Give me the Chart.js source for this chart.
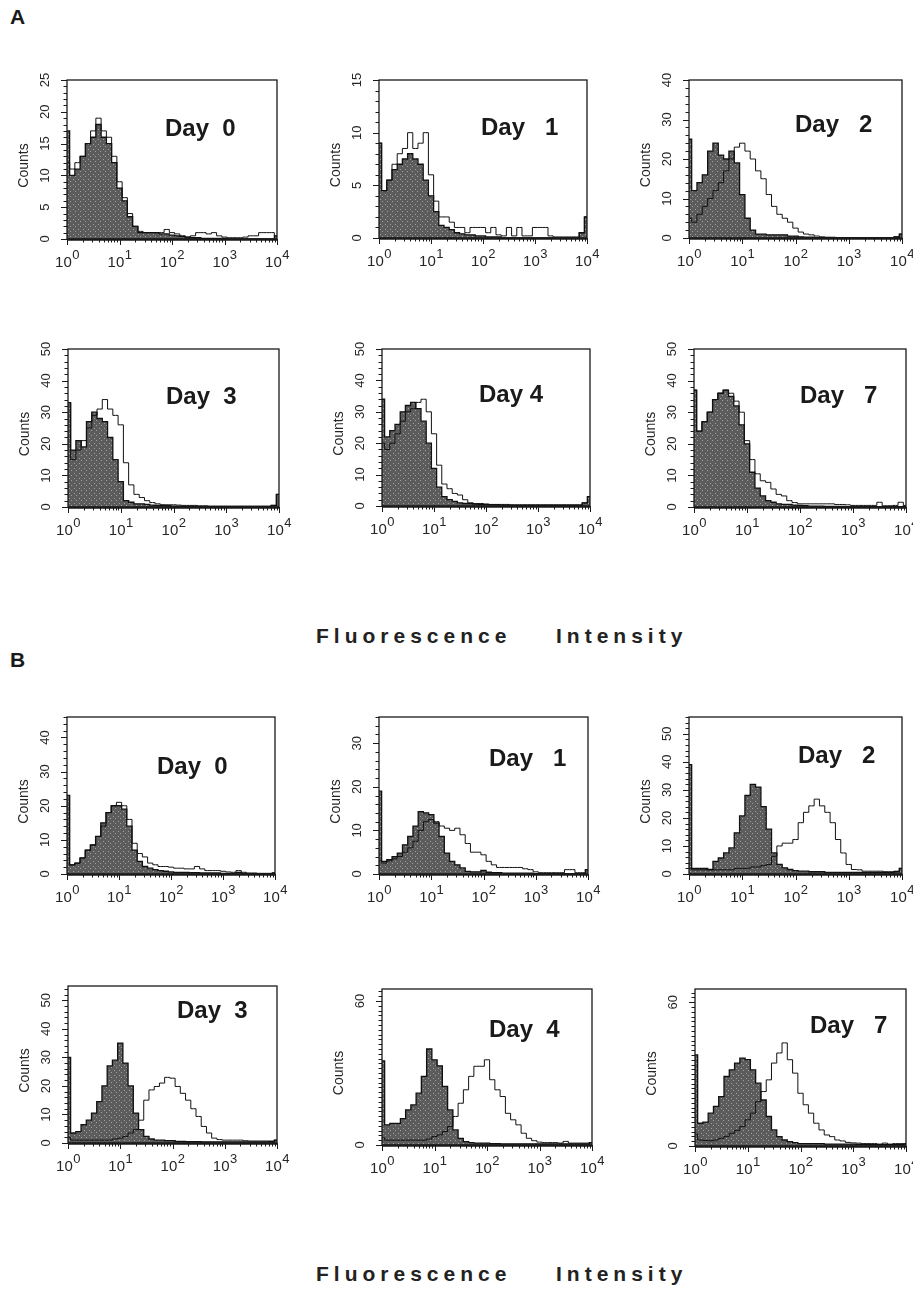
<!DOCTYPE html>
<html>
<head>
<meta charset="utf-8">
<script src="https://cdn.jsdelivr.net/npm/chart.js@4"></script>
<style>
  html, body { margin: 0; padding: 0; background: #fff; }
  body { width: 913px; height: 1289px; position: relative; overflow: hidden; font-family: "Liberation Sans", Arial, sans-serif; }
  canvas { position: absolute; }
  .tag { position: absolute; font-weight: bold; font-size: 21px; color: #1a1a1a; }
  .axt { position: absolute; font-weight: bold; font-size: 21px; letter-spacing: 5px; color: #222; }
</style>
</head>
<body>
<div class="tag" style="left:10px;top:5px">A</div>
<div class="tag" style="left:10px;top:648px">B</div>
<div class="axt" style="left:316px;top:624px">Fluorescence</div>
<div class="axt" style="left:556px;top:624px">Intensity</div>
<div class="axt" style="left:316px;top:1262px">Fluorescence</div>
<div class="axt" style="left:556px;top:1262px">Intensity</div>

<script>
// histogram channels, 10 per decade (10^0 .. 10^4)
const binX = [1, 1.26, 1.58, 2.0, 2.51, 3.16, 3.98, 5.01, 6.31, 7.94,
  10, 12.6, 15.8, 20.0, 25.1, 31.6, 39.8, 50.1, 63.1, 79.4,
  100, 126, 158, 200, 251, 316, 398, 501, 631, 794,
  1000, 1259, 1585, 1995, 2512, 3162, 3981, 5012, 6310, 7943, 10000];
const xTickExp = [0, 1, 2, 3, 4];

// panel A
const a0Fill = [17,10,11,13,15,16,18,16,15,12, 8,6,3.5,2,1,1,1,1,0.8,0.8, 0.6,0.5,0.4,0.3,0.2,0.2,0.1,0.1,0.1,0.1, 0.1,0,0,0,0,0,0,0,0,0, 0.5];
const a0Open = [12,11,12,13,15,17,19,17,16,13, 9,6.5,4,2,1.2,1,1,1,1,1.5, 1,0.8,0.5,0.3,0.5,1,1,0.8,1,0.5, 0.3,0.2,0.2,0.2,0.3,0.5,0.5,1,1,1, 0.5];
const a1Fill = [9,4.5,5.5,6.5,7,7.5,8,7.5,7,5.5, 4,2.5,1.2,1,0.8,0.5,0.4,0.3,0.3,0.2, 0.2,0.1,0.1,0.1,0,0,0,0,0,0, 0,0,0,0,0,0,0,0,0,0.5, 2];
const a1Open = [9,4.5,5.5,7,8,8.5,10,8.5,9,10, 6,3.5,2,2,1.5,1,1,0.5,1,1, 1,0.5,1,0.3,0.2,1,0.2,1,0.2,0.2, 1,1,1,0.2,0.1,0.1,0.1,0.1,0.1,0.5, 2];
const a2Fill = [25,12,14,16,22,24,21,20,22,19, 11,5,2,1,1,0.8,0.8,0.8,0.8,0.5, 0.5,0.3,0.2,0.2,0.1,0.1,0.1,0,0,0, 0,0,0,0,0,0,0,0,0,0.3, 1];
const a2Open = [5,4,6,8,10,12,14,17,20,23, 24,22,20,17,15,11,8,6,5,4, 2.5,1.5,1,0.8,0.5,0.3,0.2,0.2,0.1,0.1, 0.1,0.1,0.1,0.1,0.1,0.1,0.1,0.1,0.1,0.3, 1];
const a3Fill = [33,18,21,19,27,30,28,27,22,15, 8,2,1.5,1,1,0.8,0.6,0.5,0.5,0.4, 0.3,0.3,0.2,0.2,0.2,0.1,0.1,0.1,0.1,0.1, 0.1,0.1,0.1,0.1,0.1,0.1,0.1,0.1,0.1,0.5, 4];
const a3Open = [33,15,18,21,25,29,31,34,31,29, 26,14,7,4,3,2,1.4,1,0.7,0.7, 0.7,0.6,0.5,0.5,0.5,0.4,0.4,0.3,0.3,0.3, 0.3,0.3,0.3,0.3,0.3,0.3,0.3,0.3,0.3,0.5, 4];
const a4Fill = [34,22,24,26,30,32,33,31,27,20, 12,6,3,2,1.5,1,0.8,0.8,0.6,0.5, 0.5,0.4,0.4,0.3,0.3,0.2,0.2,0.2,0.2,0.2, 0.2,0.2,0.2,0.2,0.2,0.2,0.2,0.2,0.2,1, 3];
const a4Open = [20,18,20,23,27,30,31,33,34,30, 23,13,7,5.5,4,3.5,2,1,0.8,0.8, 0.6,0.5,0.5,0.5,0.5,0.4,0.4,0.4,0.4,0.4, 0.4,0.4,0.4,0.4,0.4,0.4,0.4,0.4,0.4,1, 3];
const a7Fill = [37,24,27,30,34,36,37,35,32,26, 20,11,6,3.5,2,1.5,1,0.8,0.8,0.6, 0.5,0.4,0.3,0.3,0.3,0.2,0.2,0.2,0.2,0.1, 0.1,0.1,0.1,0.1,0.1,0.1,0.1,0.1,0.1,0.1, 0.3];
const a7Open = [37,24,27,30,34,36,37,36,33.5,30, 21,15,10.5,8.3,7.8,5.7,4,3.5,2,1.4, 1,1,1,1,1,1,1,0.8,0.8,0.7, 0.5,0.5,0.5,0.5,0.5,1.5,0.4,0.4,0.5,1.5, 0.5];

// panel B
const b0Fill = [23,2.7,3.2,4.7,7,8.5,11,15,18,20, 20,19,14,7,3.7,2.2,1.7,1.3,1,0.8, 0.6,0.5,0.5,0.5,0.4,0.4,0.3,0.3,0.3,0.3, 0.2,0.2,0.2,0.5,0.2,0.1,0.1,0.1,0.1,0.1, 0.3];
const b0Open = [23,2.7,3.2,4.7,7,8.5,11,14,18,20, 21,20,16,9,6,5,3.2,2.7,2.2,2.2, 2,1.7,1.7,1.5,1.5,2.2,1.5,1,1,1, 0.8,0.6,0.5,1,0.5,0.3,0.3,0.2,0.2,0.2, 0.3];
const b1Fill = [19,2.9,3.3,4,4.8,6.7,8.6,11,14.3,14, 13.6,11.7,8.6,4.8,2.9,2.1,1.4,0.6,0.5,0.5, 0.8,0.4,0.3,0.3,0.2,0.2,0.2,0.2,0.2,0.2, 0.1,0.1,0.1,0.1,0.1,0.1,0.1,0.1,0.1,0.1, 1];
const b1Open = [3,2.5,3,3.5,4,5,6,7.5,10,12, 12.5,12,11,10.5,10,10.5,9,7,5,5, 4.4,2.9,2.1,1.5,1.5,1.5,1.5,1.5,1.2,1, 0.5,0.3,0.3,0.3,0.3,0.3,1,1,0.3,0.3, 1];
const b2Fill = [39,2,2,2,1.6,4.5,5.7,7.5,9.3,14.7, 20.7,28,32,31,24,16,7.5,3.4,2.2,1.6, 1.2,1,1,0.8,0.8,0.8,0.6,0.6,0.6,0.6, 0.6,0.6,0.6,0.6,0.6,0.6,0.6,0.6,0.6,0.8, 2];
const b2Open = [2,1.5,1.5,1.5,1.5,1.5,1.5,1.5,1.5,2, 2,2,2.5,2.5,3,3.4,6.3,10,11,11, 12.3,18.3,22,24.3,26.7,24.3,22,18.3,12.3,7.5, 3.4,1.6,1.5,1,1,1,1,0.8,0.8,1, 2];
const b3Fill = [30,3.5,4,6.4,8,10.5,14.5,20,27,29, 35,28,20,10.5,4.7,2.3,1.4,1,1,0.8, 0.8,0.6,0.6,0.5,0.5,0.5,0.4,0.4,0.4,0.4, 0.4,0.4,0.4,0.4,0.4,0.4,0.4,0.4,0.4,0.5, 1];
const b3Open = [2,1,1,1,1,1,1,1,1,1.4, 1.7,2.3,3.5,4.7,8,15,18.6,19.8,21,23, 22.7,19.8,17.4,15,12,9.3,5.8,3.5,1.7,1.2, 1,1,1,1,0.8,0.7,0.7,0.7,0.7,0.7, 1];
const b4Fill = [35,8.4,9,9,11,14.6,16.7,21.6,28.6,40, 35.5,33,24.4,14.6,6.3,2.8,1.4,1,0.8,0.8, 0.8,0.6,0.6,0.5,0.5,0.5,0.5,0.5,0.5,0.5, 0.5,0.5,0.5,0.5,0.5,0.5,0.5,0.5,0.5,0.5, 1];
const b4Open = [3,2,2,2,2,2,2,2,2,2.5, 3.5,4.2,5.6,7.7,11.9,17.4,23,28.6,32.8,32.8, 35.5,27.2,23,20.2,13.2,10.5,8.4,4.9,2.8,1.8, 1.2,1,1,1,0.8,1.5,0.8,0.8,0.8,0.8, 1];
const b7Fill = [38,9.5,10,13.7,16.5,20.6,29,31.8,34.6,36.7, 36,31.8,26.2,19.2,12.3,6.7,3.9,2.5,1.8,1.4, 1,1,1,1,1,0.8,0.8,0.8,0.8,0.8, 0.8,0.7,0.7,0.6,0.6,0.6,0.6,0.6,0.6,0.6, 0.8];
const b7Open = [5,2.5,2.3,2.2,2.5,3.2,4,5.3,6.5,8.1, 10.9,13.7,18.5,22.7,27.6,34.6,38.8,43,36,30.4, 22,17.2,13.7,9.5,6.7,4.6,3.9,2.5,2.1,1.5, 1.3,1.2,1,1,1,0.8,1.2,0.8,1,1, 1];

const dayLabels = ["Day  0", "Day   1", "Day   2", "Day  3", "Day 4", "Day   7",
                   "Day  0", "Day   1", "Day   2", "Day  3", "Day  4", "Day   7"];
const yMax = [25, 15, 40, 50, 50, 50, 46, 36, 56, 55, 65, 65.5];
const yTickLabels = [
  [0, 5, 10, 15, 20, 25], [0, 5, 10, 15], [0, 10, 20, 30, 40],
  [0, 10, 20, 30, 40, 50], [0, 10, 20, 30, 40, 50], [0, 10, 20, 30, 40, 50],
  [0, 10, 20, 30, 40], [0, 10, 20, 30], [0, 10, 20, 30, 40, 50],
  [0, 10, 20, 30, 40, 50], [0, 60], [0, 60]
];
const fills = [a0Fill, a1Fill, a2Fill, a3Fill, a4Fill, a7Fill, b0Fill, b1Fill, b2Fill, b3Fill, b4Fill, b7Fill];
const opens = [a0Open, a1Open, a2Open, a3Open, a4Open, a7Open, b0Open, b1Open, b2Open, b3Open, b4Open, b7Open];

// plot boxes on the page (l, t, r, b) and where the Day label sits inside
const panels = [
  { l: 67,  t: 80,  r: 277, b: 239, minor: 1, dx: 98,  dy: 56 },
  { l: 379, t: 80,  r: 587, b: 238, minor: 1, dx: 102, dy: 55 },
  { l: 689, t: 80,  r: 902, b: 238, minor: 2, dx: 106, dy: 52 },
  { l: 68,  t: 349, r: 279, b: 507, minor: 2, dx: 98,  dy: 55 },
  { l: 382, t: 349, r: 590, b: 506, minor: 2, dx: 97,  dy: 53 },
  { l: 694, t: 349, r: 906, b: 507, minor: 2, dx: 106, dy: 54 },
  { l: 67,  t: 717, r: 275, b: 874, minor: 2, dx: 90,  dy: 57 },
  { l: 379, t: 717, r: 588, b: 874, minor: 2, dx: 110, dy: 49 },
  { l: 689, t: 717, r: 902, b: 874, minor: 2, dx: 109, dy: 46 },
  { l: 68,  t: 986, r: 277, b: 1143, minor: 2, dx: 109, dy: 32 },
  { l: 382, t: 989, r: 592, b: 1145, minor: 2, dx: 107, dy: 48 },
  { l: 695, t: 989, r: 906, b: 1146, minor: 2, dx: 115, dy: 44 }
];
const PAD = { left: 60, top: 12, right: 14, bottom: 40 };
const FONT = "'Liberation Sans', Arial, sans-serif";

// stippled dark grey like the scanned fill
function stipple() {
  const c = document.createElement("canvas");
  c.width = 5; c.height = 5;
  const g = c.getContext("2d");
  g.fillStyle = "#5c5c5c";
  g.fillRect(0, 0, 5, 5);
  g.fillStyle = "#a2a2a2";
  g.fillRect(1, 1, 1, 1);
  g.fillRect(3, 3, 1, 1);
  return g.createPattern(c, "repeat");
}

const frame = {
  id: "frame",
  afterDraw(chart, args, o) {
    const { ctx, chartArea: a, scales } = chart;
    const x = scales.x, y = scales.y;
    ctx.save();
    ctx.strokeStyle = "#1a1a1a";
    ctx.lineWidth = 1.3;
    ctx.strokeRect(a.left, a.top, a.right - a.left, a.bottom - a.top);
    ctx.lineWidth = 2.4;
    ctx.beginPath();
    ctx.moveTo(a.left, a.bottom + 0.6);
    ctx.lineTo(a.right, a.bottom + 0.6);
    ctx.stroke();

    // x ticks: decades + 2..9
    ctx.lineWidth = 1;
    ctx.beginPath();
    xTickExp.forEach(d => {
      for (let m = 1; m <= 9; m++) {
        const v = Math.pow(10, d) * m;
        if (v > 10000) break;
        const px = Math.round(x.getPixelForValue(v)) + 0.5;
        ctx.moveTo(px, a.bottom);
        ctx.lineTo(px, a.bottom + (m === 1 ? 6 : 3.5));
      }
    });
    // y ticks
    for (let v = 0; v <= o.max + 0.001; v += o.minor) {
      const py = Math.round(y.getPixelForValue(v)) + 0.5;
      ctx.moveTo(a.left, py);
      ctx.lineTo(a.left - (o.labels.includes(v) ? 6 : 3.5), py);
    }
    ctx.stroke();

    // x labels 10^n
    ctx.fillStyle = "#262626";
    ctx.textBaseline = "alphabetic";
    ctx.textAlign = "left";
    xTickExp.forEach(d => {
      const px = x.getPixelForValue(Math.pow(10, d));
      ctx.font = "15px " + FONT;
      const w1 = ctx.measureText("10").width;
      ctx.font = "13px " + FONT;
      const w2 = ctx.measureText(String(d)).width;
      const x0 = px - (w1 + w2) / 2;
      ctx.font = "15px " + FONT;
      ctx.fillText("10", x0, a.bottom + 28);
      ctx.font = "13px " + FONT;
      ctx.fillText(String(d), x0 + w1 + 0.5, a.bottom + 20);
    });

    // y labels, rotated
    ctx.font = "13px " + FONT;
    ctx.textAlign = "center";
    ctx.textBaseline = "middle";
    o.labels.forEach(v => {
      const py = y.getPixelForValue(v);
      ctx.save();
      ctx.translate(a.left - 22, py);
      ctx.rotate(-Math.PI / 2);
      ctx.fillText(String(v), 0, 0);
      ctx.restore();
    });
    ctx.save();
    ctx.font = "14px " + FONT;
    ctx.translate(a.left - 43, (a.top + a.bottom) / 2 + 6);
    ctx.rotate(-Math.PI / 2);
    ctx.fillText("Counts", 0, 0);
    ctx.restore();

    // Day label
    ctx.font = "bold 24px " + FONT;
    ctx.fillStyle = "#1a1a1a";
    ctx.textAlign = "left";
    ctx.textBaseline = "alphabetic";
    ctx.fillText(o.label, a.left + o.dx, a.top + o.dy);
    ctx.restore();
  }
};

const pattern = stipple();

panels.forEach((p, i) => {
  const cv = document.createElement("canvas");
  const w = p.r - p.l + PAD.left + PAD.right;
  const h = p.b - p.t + PAD.top + PAD.bottom;
  cv.width = w;
  cv.height = h;
  cv.style.left = (p.l - PAD.left) + "px";
  cv.style.top = (p.t - PAD.top) + "px";
  cv.style.width = w + "px";
  cv.style.height = h + "px";
  document.body.appendChild(cv);

  new Chart(cv, {
    type: "line",
    data: {
      datasets: [
        {
          label: "open",
          data: opens[i].map((c, k) => ({ x: binX[k], y: c })),
          stepped: "middle",
          borderColor: "#111",
          borderWidth: 1,
          fill: false
        },
        {
          label: "filled",
          data: fills[i].map((c, k) => ({ x: binX[k], y: c })),
          stepped: "middle",
          borderColor: "#111",
          borderWidth: 1.3,
          backgroundColor: pattern,
          fill: "origin"
        }
      ]
    },
    options: {
      responsive: false,
      animation: false,
      devicePixelRatio: 1,
      layout: { padding: PAD },
      elements: { point: { radius: 0 }, line: { tension: 0 } },
      scales: {
        x: { type: "logarithmic", min: 1, max: 10000, display: false },
        y: { min: 0, max: yMax[i], display: false }
      },
      plugins: {
        legend: { display: false },
        tooltip: { enabled: false },
        frame: { label: dayLabels[i], max: yMax[i], labels: yTickLabels[i], minor: p.minor, dx: p.dx, dy: p.dy }
      }
    },
    plugins: [frame]
  });
});
</script>
</body>
</html>
